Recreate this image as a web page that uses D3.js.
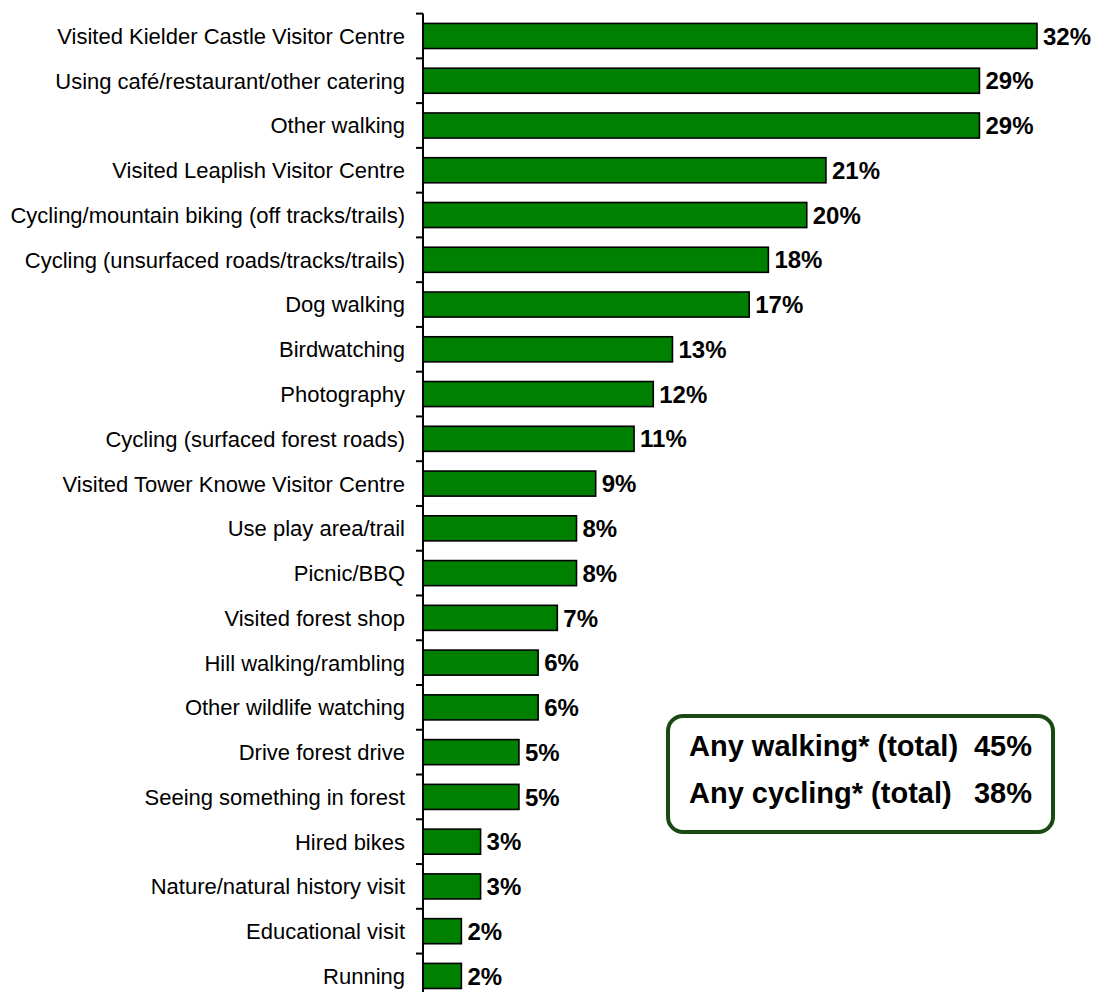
<!DOCTYPE html>
<meta charset="utf-8">
<head>
  <title>Kielder activities</title>
</head>
<style>
  body { margin: 0; background: #fff; }
  text { font-family: "Liberation Sans", Arial, sans-serif; }
</style>
<body>
<div id="content"></div>
<script src="https://cdnjs.cloudflare.com/ajax/libs/d3/7.8.5/d3.min.js"></script>
<script>

const width = 1094
const height = 992

const activities = [
  "Visited Kielder Castle Visitor Centre",
  "Using café/restaurant/other catering",
  "Other walking",
  "Visited Leaplish Visitor Centre",
  "Cycling/mountain biking (off tracks/trails)",
  "Cycling (unsurfaced roads/tracks/trails)",
  "Dog walking",
  "Birdwatching",
  "Photography",
  "Cycling (surfaced forest roads)",
  "Visited Tower Knowe Visitor Centre",
  "Use play area/trail",
  "Picnic/BBQ",
  "Visited forest shop",
  "Hill walking/rambling",
  "Other wildlife watching",
  "Drive forest drive",
  "Seeing something in forest",
  "Hired bikes",
  "Nature/natural history visit",
  "Educational visit",
  "Running"
]
const percents = [32, 29, 29, 21, 20, 18, 17, 13, 12, 11, 9, 8, 8, 7, 6, 6, 5, 5, 3, 3, 2, 2]

const totalLabels = ["Any walking* (total)", "Any cycling* (total)"]
const totalValues = [45, 38]

const svg = d3.select('#content')
  .append('svg')
    .attr('width', width)
    .attr('height', height)

const x0 = 423
const xScale = d3.scaleLinear()
  .domain([0, 32])
  .range([x0, 1037])

const yScale = d3.scaleBand()
  .domain(activities)
  .range([13.6, 13.6 + 44.76 * activities.length])
  .paddingInner(0.44)
  .paddingOuter(0.22)

// bars
svg.append('g')
  .selectAll('rect')
  .data(activities)
  .enter()
  .append('rect')
    .attr('x', x0)
    .attr('y', d => yScale(d))
    .attr('width', (d, i) => xScale(percents[i]) - x0)
    .attr('height', yScale.bandwidth())
    .style('fill', '#008000')
    .style('stroke', '#000')
    .style('stroke-width', 1.6)

// value labels
svg.append('g')
  .selectAll('text')
  .data(activities)
  .enter()
  .append('text')
    .attr('x', (d, i) => xScale(percents[i]) + 6)
    .attr('y', d => yScale(d) + yScale.bandwidth() / 2)
    .attr('dy', '0.36em')
    .style('font-size', '24px')
    .style('font-weight', 'bold')
    .text((d, i) => percents[i] + '%')

// category axis
const axis = svg.append('g')
  .attr('transform', 'translate(' + x0 + ',0)')
  .call(d3.axisLeft(yScale).tickSize(0).tickPadding(18))

axis.select('.domain').remove()
axis.selectAll('text')
  .style('font-size', '22px')
  .style('fill', '#000')
  .attr('dy', '0.36em')

// axis line and boundary ticks
const step = yScale.step()
const bounds = d3.range(activities.length + 1).map(i => 13.6 + i * step)

svg.append('line')
  .attr('x1', x0).attr('x2', x0)
  .attr('y1', bounds[0]).attr('y2', height + 10)
  .style('stroke', '#000')
  .style('stroke-width', 2)

svg.append('g')
  .selectAll('line')
  .data(bounds)
  .enter()
  .append('line')
    .attr('x1', x0 - 7).attr('x2', x0)
    .attr('y1', d => d).attr('y2', d => d)
    .style('stroke', '#000')
    .style('stroke-width', 2)

// totals box
const box = svg.append('g')
box.append('rect')
  .attr('x', 668).attr('y', 716)
  .attr('width', 385).attr('height', 116)
  .attr('rx', 15).attr('ry', 15)
  .style('fill', '#fff')
  .style('stroke', '#1a4a14')
  .style('stroke-width', 4)

box.selectAll('text.lab')
  .data(totalLabels)
  .enter()
  .append('text')
    .attr('class', 'lab')
    .attr('x', 689)
    .attr('y', (d, i) => 756 + i * 47)
    .style('font-size', '29px')
    .style('font-weight', 'bold')
    .text(d => d)

box.selectAll('text.val')
  .data(totalValues)
  .enter()
  .append('text')
    .attr('class', 'val')
    .attr('x', 1032)
    .attr('y', (d, i) => 756 + i * 47)
    .attr('text-anchor', 'end')
    .style('font-size', '29px')
    .style('font-weight', 'bold')
    .text(d => d + '%')

</script>
</body>
</html>
